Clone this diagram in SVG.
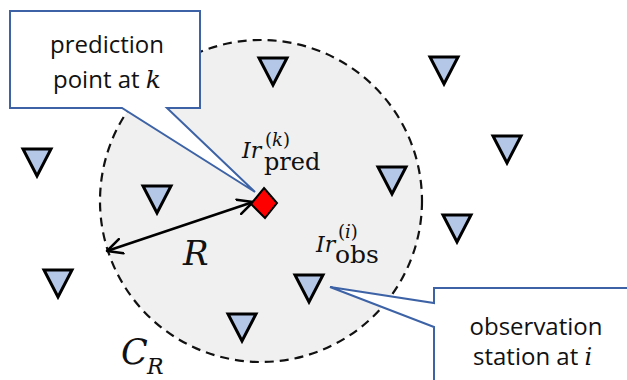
<svg xmlns="http://www.w3.org/2000/svg" width="627" height="380" viewBox="0 0 627 380">
<defs>
<style>
.tri{fill:#b4c7e7;stroke:#000;stroke-width:3;stroke-linejoin:miter}
.call{fill:#fff;stroke:#3d63a6;stroke-width:2;stroke-linejoin:miter}
.lbl{font-family:"Open Sans","Noto Sans",sans-serif;font-size:24px;fill:#111}
.m{font-family:"DejaVu Serif","Liberation Serif",serif;fill:#111}
.it{font-style:italic}
.up{font-style:normal}
</style>
<path id="tri" class="tri" d="M-14,0 H14 L0,27 Z"/>
<marker id="ah" viewBox="0 0 18 18" refX="16" refY="9" markerWidth="18" markerHeight="18" markerUnits="userSpaceOnUse" orient="auto-start-reverse">
<path d="M1,1.5 L16,9 L1,16.5" fill="none" stroke="#000" stroke-width="2.5" stroke-linecap="round" stroke-linejoin="round"/>
</marker>
</defs>
<rect width="627" height="380" fill="#fff"/>
<g id="circle">
<circle cx="261" cy="201" r="161" fill="#f0f0f0" stroke="#111" stroke-width="2.2" stroke-dasharray="9,6"/>
<text class="m it" x="121" y="364" font-size="35">C</text>
<text class="m it" x="147" y="374" font-size="22">R</text>
</g>
<g id="stations">
<use href="#tri" x="273" y="58"/>
<use href="#tri" x="444" y="57"/>
<use href="#tri" x="507" y="136"/>
<use href="#tri" x="37" y="149"/>
<use href="#tri" x="157" y="186"/>
<use href="#tri" x="392" y="167"/>
<use href="#tri" x="457" y="215"/>
<use href="#tri" x="58" y="270"/>
<use href="#tri" x="309" y="275"/>
<use href="#tri" x="242" y="314"/>
</g>
<g id="connectors">
<line x1="107" y1="251" x2="253" y2="202" stroke="#000" stroke-width="2.5" marker-start="url(#ah)" marker-end="url(#ah)"/>
<text class="m it" x="183" y="265" font-size="34">R</text>
</g>
<g id="prediction-point">
<polygon points="264,188 277,203 265,218 251,204" fill="#f00" stroke="#000" stroke-width="2" stroke-linejoin="miter"/>
<text class="m it" x="242" y="158" font-size="22">Ir</text>
<text class="m" x="265" y="146" font-size="18"><tspan class="up">(</tspan><tspan class="it">k</tspan><tspan class="up">)</tspan></text>
<text class="m" x="264" y="170" font-size="24">pred</text>
</g>
<g id="observation-station">
<text class="m it" x="316" y="252" font-size="22">Ir</text>
<text class="m" x="338" y="238" font-size="18"><tspan class="up">(</tspan><tspan class="it">i</tspan><tspan class="up">)</tspan></text>
<text class="m" x="335" y="263" font-size="25">obs</text>
</g>
<g id="callout-prediction">
<path class="call" d="M10,11 H200 V108 H167 L255,192 L122,108 H10 Z"/>
<text class="lbl" x="107" y="53" text-anchor="middle">prediction</text>
<text class="lbl" x="53" y="88">point at <tspan class="m it" font-size="25">k</tspan></text>
</g>
<g id="callout-observation">
<path class="call" d="M434,288 H640 V400 H434 V327 L330,287 L434,303 Z"/>
<text class="lbl" x="536" y="335" text-anchor="middle" font-size="23">observation</text>
<text class="lbl" x="473" y="365" font-size="23">station at <tspan class="m it" font-size="24">i</tspan></text>
</g>
</svg>
